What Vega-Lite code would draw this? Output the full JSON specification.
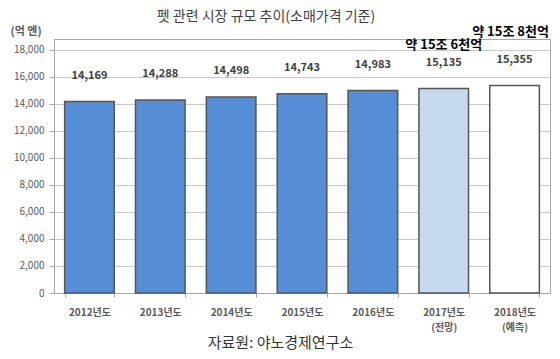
{
  "$schema": "https://vega.github.io/schema/vega-lite/v6.json",
  "width": 496,
  "height": 254,
  "autosize": {"type": "none"},
  "padding": {"left": 54, "top": 39, "right": 10, "bottom": 66},
  "background": "white",
  "config": {
    "font": "Noto Sans CJK KR",
    "view": {"stroke": "#a6a6a6", "strokeWidth": 1}
  },
  "title": {
    "text": "펫 관련 시장 규모 추이(소매가격 기준)",
    "fontSize": 14,
    "fontWeight": "normal",
    "color": "#404040",
    "anchor": "middle",
    "dx": -36,
    "offset": 1,
    "font": "Noto Sans CJK KR"
  },
  "data": {
    "values": [
      {"year": "2012년도", "value": 14169, "type": "실적", "label": "14,169"},
      {"year": "2013년도", "value": 14288, "type": "실적", "label": "14,288"},
      {"year": "2014년도", "value": 14498, "type": "실적", "label": "14,498"},
      {"year": "2015년도", "value": 14743, "type": "실적", "label": "14,743"},
      {"year": "2016년도", "value": 14983, "type": "실적", "label": "14,983"},
      {"year": "2017년도\n(전망)", "value": 15135, "type": "전망", "label": "15,135", "note": "약 15조 6천억"},
      {"year": "2018년도\n(예측)", "value": 15355, "type": "예측", "label": "15,355", "note": "약 15조 8천억"}
    ]
  },
  "encoding": {
    "x": {
      "field": "year",
      "type": "nominal",
      "sort": null,
      "scale": {"paddingInner": 0.3, "paddingOuter": 0.15},
      "axis": {
        "labelExpr": "split(datum.label, '\\n')",
        "labelAngle": 0,
        "labelFontSize": 10,
        "labelFontWeight": "bold",
        "labelColor": "#595959",
        "labelPadding": 10,
        "labelLineHeight": 15,
        "tickBand": "extent",
        "tickSize": 4,
        "tickColor": "#a6a6a6",
        "domainColor": "#a6a6a6",
        "title": "자료원: 야노경제연구소",
        "titleFontSize": 15,
        "titleFontWeight": "normal",
        "titleColor": "#333333",
        "titleX": 226,
        "titleY": 49,
        "titleAlign": "center",
        "titleBaseline": "middle"
      }
    },
    "y": {
      "field": "value",
      "type": "quantitative",
      "scale": {"domain": [0, 18800], "nice": false},
      "axis": {
        "values": [0, 2000, 4000, 6000, 8000, 10000, 12000, 14000, 16000, 18000],
        "format": ",.0f",
        "labelFontSize": 10,
        "labelColor": "#595959",
        "labelPadding": 5,
        "tickSize": 5,
        "tickColor": "#a6a6a6",
        "domainColor": "#a6a6a6",
        "gridColor": "#c8c8c8",
        "title": "(억 엔)",
        "titleAngle": 0,
        "titleX": -44,
        "titleY": -8,
        "titleAlign": "left",
        "titleBaseline": "middle",
        "titleFontSize": 11,
        "titleFontWeight": "bold",
        "titleColor": "#595959"
      }
    }
  },
  "layer": [
    {
      "mark": {"type": "bar", "stroke": "#555555", "strokeWidth": 1.5},
      "encoding": {
        "color": {
          "field": "type",
          "type": "nominal",
          "scale": {"domain": ["실적", "전망", "예측"], "range": ["#558ed5", "#c6d9f1", "#ffffff"]},
          "legend": null
        }
      }
    },
    {
      "mark": {"type": "text", "dy": -26, "baseline": "middle", "fontSize": 11, "fontWeight": "bold", "color": "#404040"},
      "encoding": {"text": {"field": "label"}}
    },
    {
      "transform": [{"filter": "datum.type == '전망'"}],
      "mark": {"type": "text", "dy": -44, "baseline": "middle", "fontSize": 13, "fontWeight": "bold", "color": "black"},
      "encoding": {"text": {"field": "note"}}
    },
    {
      "transform": [{"filter": "datum.type == '예측'"}],
      "mark": {"type": "text", "dy": -54, "dx": -4, "baseline": "middle", "fontSize": 13, "fontWeight": "bold", "color": "black"},
      "encoding": {"text": {"field": "note"}}
    }
  ]
}
